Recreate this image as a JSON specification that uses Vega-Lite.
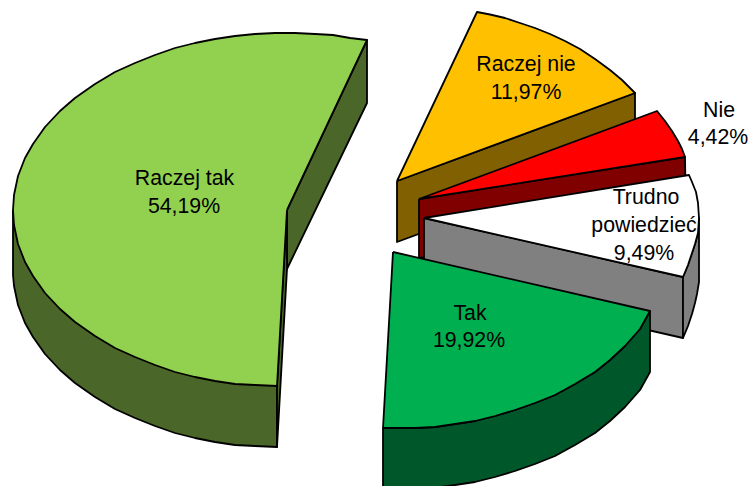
{"$schema":"https://vega.github.io/schema/vega-lite/v6.json","width":751,"height":486,"padding":0,"autosize":"none","background":"white","view":{"stroke":null},
"encoding":{"x":{"field":"x","type":"quantitative","scale":{"domain":[0,751],"nice":false,"zero":false},"axis":null},"y":{"field":"y","type":"quantitative","scale":{"domain":[486,0],"nice":false,"zero":false},"axis":null}},
"layer":[
{"data":{"values":[
{"f":"a1","s":1,"x":287,"y":210},{"f":"a1","s":2,"x":367,"y":40},{"f":"a1","s":3,"x":367,"y":103},{"f":"a1","s":4,"x":287,"y":269},{"f":"a1","s":5,"x":287,"y":210},
{"f":"a2","s":1,"x":13,"y":210},{"f":"a2","s":2,"x":13,"y":275},{"f":"a2","s":3,"x":14,"y":286},{"f":"a2","s":4,"x":18,"y":305},{"f":"a2","s":5,"x":25,"y":323},{"f":"a2","s":6,"x":33,"y":337},{"f":"a2","s":7,"x":45,"y":354},{"f":"a2","s":8,"x":60,"y":370},{"f":"a2","s":9,"x":75,"y":383},{"f":"a2","s":10,"x":95,"y":397},{"f":"a2","s":11,"x":115,"y":409},{"f":"a2","s":12,"x":135,"y":418},{"f":"a2","s":13,"x":155,"y":426},{"f":"a2","s":14,"x":175,"y":433},{"f":"a2","s":15,"x":195,"y":438},{"f":"a2","s":16,"x":215,"y":442},{"f":"a2","s":17,"x":235,"y":445},{"f":"a2","s":18,"x":255,"y":446},{"f":"a2","s":19,"x":277,"y":447},{"f":"a2","s":20,"x":277,"y":386},{"f":"a2","s":21,"x":13,"y":210},
{"f":"a3","s":1,"x":287,"y":210},{"f":"a3","s":2,"x":277,"y":386},{"f":"a3","s":3,"x":277,"y":447},{"f":"a3","s":4,"x":287,"y":269},{"f":"a3","s":5,"x":287,"y":210},
{"f":"a4","s":1,"x":287,"y":210},{"f":"a4","s":2,"x":367,"y":40},{"f":"a4","s":3,"x":350,"y":38},{"f":"a4","s":4,"x":333,"y":35},{"f":"a4","s":5,"x":315,"y":34},{"f":"a4","s":6,"x":295,"y":33},{"f":"a4","s":7,"x":275,"y":33},{"f":"a4","s":8,"x":255,"y":34},{"f":"a4","s":9,"x":235,"y":36},{"f":"a4","s":10,"x":215,"y":39},{"f":"a4","s":11,"x":195,"y":43},{"f":"a4","s":12,"x":175,"y":48},{"f":"a4","s":13,"x":155,"y":55},{"f":"a4","s":14,"x":135,"y":63},{"f":"a4","s":15,"x":115,"y":72},{"f":"a4","s":16,"x":95,"y":84},{"f":"a4","s":17,"x":75,"y":98},{"f":"a4","s":18,"x":60,"y":111},{"f":"a4","s":19,"x":45,"y":127},{"f":"a4","s":20,"x":33,"y":144},{"f":"a4","s":21,"x":25,"y":158},{"f":"a4","s":22,"x":18,"y":176},{"f":"a4","s":23,"x":14,"y":195},{"f":"a4","s":24,"x":13,"y":210},{"f":"a4","s":25,"x":14,"y":225},{"f":"a4","s":26,"x":18,"y":244},{"f":"a4","s":27,"x":25,"y":262},{"f":"a4","s":28,"x":33,"y":276},{"f":"a4","s":29,"x":45,"y":293},{"f":"a4","s":30,"x":60,"y":309},{"f":"a4","s":31,"x":75,"y":322},{"f":"a4","s":32,"x":95,"y":336},{"f":"a4","s":33,"x":115,"y":348},{"f":"a4","s":34,"x":135,"y":357},{"f":"a4","s":35,"x":155,"y":365},{"f":"a4","s":36,"x":175,"y":372},{"f":"a4","s":37,"x":195,"y":377},{"f":"a4","s":38,"x":215,"y":381},{"f":"a4","s":39,"x":235,"y":384},{"f":"a4","s":40,"x":255,"y":385},{"f":"a4","s":41,"x":277,"y":386},{"f":"a4","s":42,"x":287,"y":210},
{"f":"b1","s":1,"x":397,"y":181},{"f":"b1","s":2,"x":635,"y":93},{"f":"b1","s":3,"x":635,"y":154},{"f":"b1","s":4,"x":397,"y":242},{"f":"b1","s":5,"x":397,"y":181},
{"f":"b2","s":1,"x":397,"y":181},{"f":"b2","s":2,"x":477,"y":12},{"f":"b2","s":3,"x":490,"y":14.5},{"f":"b2","s":4,"x":505,"y":18},{"f":"b2","s":5,"x":520,"y":23},{"f":"b2","s":6,"x":535,"y":28},{"f":"b2","s":7,"x":550,"y":34},{"f":"b2","s":8,"x":565,"y":41},{"f":"b2","s":9,"x":580,"y":49},{"f":"b2","s":10,"x":595,"y":59},{"f":"b2","s":11,"x":610,"y":70},{"f":"b2","s":12,"x":622,"y":80},{"f":"b2","s":13,"x":635,"y":93},{"f":"b2","s":14,"x":397,"y":181},
{"f":"c1","s":1,"x":419,"y":199},{"f":"c1","s":2,"x":685,"y":157},{"f":"c1","s":3,"x":686,"y":216},{"f":"c1","s":4,"x":419,"y":258},{"f":"c1","s":5,"x":419,"y":199},
{"f":"c2","s":1,"x":419,"y":199},{"f":"c2","s":2,"x":657,"y":111},{"f":"c2","s":3,"x":665,"y":121},{"f":"c2","s":4,"x":672,"y":131},{"f":"c2","s":5,"x":678,"y":141},{"f":"c2","s":6,"x":682,"y":149},{"f":"c2","s":7,"x":685,"y":157},{"f":"c2","s":8,"x":419,"y":199},
{"f":"d1","s":1,"x":424,"y":218},{"f":"d1","s":2,"x":683,"y":277},{"f":"d1","s":3,"x":683,"y":338},{"f":"d1","s":4,"x":424,"y":279},{"f":"d1","s":5,"x":424,"y":218},
{"f":"d2","s":1,"x":683,"y":277},{"f":"d2","s":2,"x":688,"y":265},{"f":"d2","s":3,"x":692,"y":253},{"f":"d2","s":4,"x":695,"y":244},{"f":"d2","s":5,"x":698,"y":233},{"f":"d2","s":6,"x":699,"y":218},{"f":"d2","s":7,"x":699,"y":282},{"f":"d2","s":8,"x":697,"y":294},{"f":"d2","s":9,"x":695,"y":303},{"f":"d2","s":10,"x":692,"y":314},{"f":"d2","s":11,"x":688,"y":326},{"f":"d2","s":12,"x":683,"y":338},{"f":"d2","s":13,"x":683,"y":277},
{"f":"d3","s":1,"x":424,"y":218},{"f":"d3","s":2,"x":689,"y":175},{"f":"d3","s":3,"x":692,"y":182},{"f":"d3","s":4,"x":696,"y":192},{"f":"d3","s":5,"x":698,"y":203},{"f":"d3","s":6,"x":699,"y":218},{"f":"d3","s":7,"x":698,"y":233},{"f":"d3","s":8,"x":695,"y":244},{"f":"d3","s":9,"x":692,"y":253},{"f":"d3","s":10,"x":688,"y":265},{"f":"d3","s":11,"x":683,"y":277},{"f":"d3","s":12,"x":424,"y":218},
{"f":"e1","s":1,"x":383,"y":428},{"f":"e1","s":2,"x":400,"y":428},{"f":"e1","s":3,"x":415,"y":428},{"f":"e1","s":4,"x":435,"y":427},{"f":"e1","s":5,"x":455,"y":424},{"f":"e1","s":6,"x":475,"y":421},{"f":"e1","s":7,"x":495,"y":416},{"f":"e1","s":8,"x":515,"y":410},{"f":"e1","s":9,"x":535,"y":403},{"f":"e1","s":10,"x":555,"y":395},{"f":"e1","s":11,"x":575,"y":384},{"f":"e1","s":12,"x":595,"y":372},{"f":"e1","s":13,"x":610,"y":360},{"f":"e1","s":14,"x":625,"y":346},{"f":"e1","s":15,"x":640,"y":329},{"f":"e1","s":16,"x":650,"y":311},{"f":"e1","s":17,"x":650,"y":372},{"f":"e1","s":18,"x":640,"y":390},{"f":"e1","s":19,"x":625,"y":407},{"f":"e1","s":20,"x":610,"y":421},{"f":"e1","s":21,"x":595,"y":433},{"f":"e1","s":22,"x":575,"y":445},{"f":"e1","s":23,"x":555,"y":456},{"f":"e1","s":24,"x":535,"y":464},{"f":"e1","s":25,"x":515,"y":471},{"f":"e1","s":26,"x":495,"y":477},{"f":"e1","s":27,"x":475,"y":482},{"f":"e1","s":28,"x":455,"y":485},{"f":"e1","s":29,"x":440,"y":487},{"f":"e1","s":30,"x":383,"y":487},{"f":"e1","s":31,"x":383,"y":428},
{"f":"e2","s":1,"x":393,"y":252},{"f":"e2","s":2,"x":650,"y":311},{"f":"e2","s":3,"x":640,"y":329},{"f":"e2","s":4,"x":625,"y":346},{"f":"e2","s":5,"x":610,"y":360},{"f":"e2","s":6,"x":595,"y":372},{"f":"e2","s":7,"x":575,"y":384},{"f":"e2","s":8,"x":555,"y":395},{"f":"e2","s":9,"x":535,"y":403},{"f":"e2","s":10,"x":515,"y":410},{"f":"e2","s":11,"x":495,"y":416},{"f":"e2","s":12,"x":475,"y":421},{"f":"e2","s":13,"x":455,"y":424},{"f":"e2","s":14,"x":435,"y":427},{"f":"e2","s":15,"x":415,"y":428},{"f":"e2","s":16,"x":400,"y":428},{"f":"e2","s":17,"x":383,"y":428},{"f":"e2","s":18,"x":393,"y":252}
]},
"mark":{"type":"line","stroke":"black","strokeWidth":1.8,"strokeJoin":"round","clip":true,"fillOpacity":1},
"encoding":{"order":{"field":"s","type":"quantitative"},
"fill":{"field":"f","type":"nominal","legend":null,"scale":{"domain":["a1","a2","a3","a4","b1","b2","c1","c2","d1","d2","d3","e1","e2"],"range":["#4A6628","#4A6628","#4A6628","#92D050","#806000","#FFC000","#800000","#FF0000","#808080","#808080","#FFFFFF","#00582A","#00B050"]}}}},
{"data":{"values":[
{"t":"Raczej tak","x":184.5,"y":185},{"t":"54,19%","x":184,"y":213},
{"t":"Raczej nie","x":526,"y":71},{"t":"11,97%","x":526,"y":99},
{"t":"Nie","x":719,"y":117},{"t":"4,42%","x":718,"y":144},
{"t":"Trudno","x":646,"y":204},{"t":"powiedzieć","x":644,"y":232},{"t":"9,49%","x":644,"y":260},
{"t":"Tak","x":470,"y":320},{"t":"19,92%","x":469,"y":347}
]},
"mark":{"type":"text","font":"Liberation Sans","fontSize":21.3,"color":"black","align":"center","baseline":"alphabetic"},
"encoding":{"text":{"field":"t","type":"nominal"}}}
]}
